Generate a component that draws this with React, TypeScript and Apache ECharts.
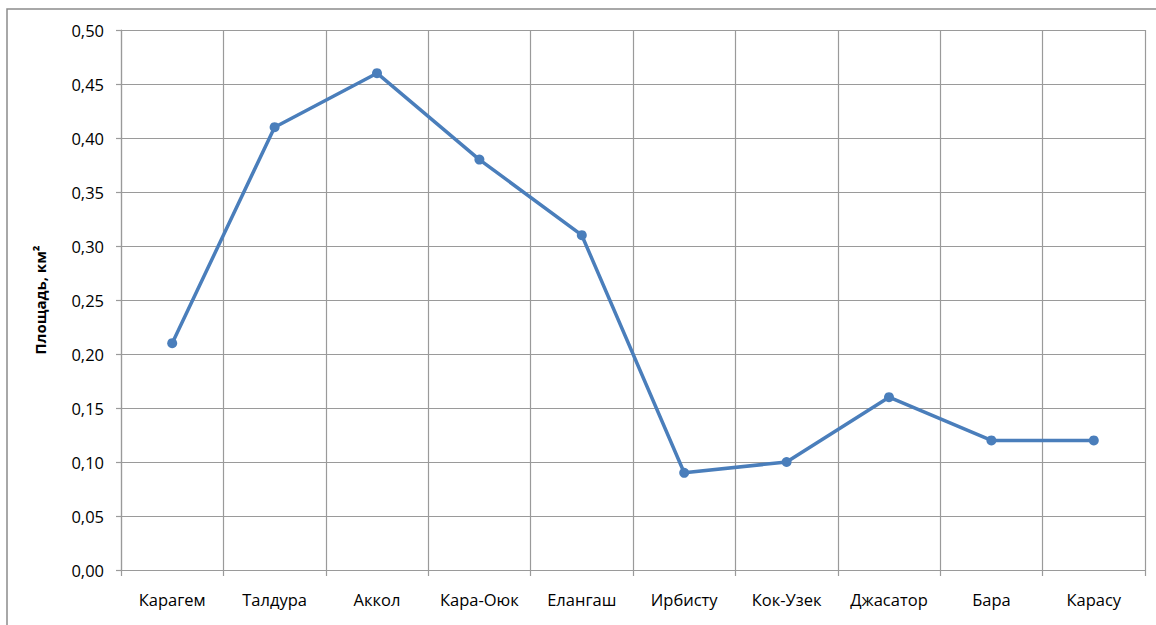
import React, { useEffect, useRef } from "react";
import * as echarts from "echarts";

const categories = ["Карагем", "Талдура", "Аккол", "Кара-Оюк", "Елангаш", "Ирбисту", "Кок-Узек", "Джасатор", "Бара", "Карасу"];
const areaValues = [0.21, 0.41, 0.46, 0.38, 0.31, 0.09, 0.10, 0.16, 0.12, 0.12];
const yAxisName = "Площадь, км²";

export default function App() {
  const ref = useRef<HTMLDivElement>(null);
  useEffect(() => {
    document.body.style.margin = "0";
    const chart = echarts.init(ref.current!, null, { renderer: "svg" });
    const font = "'Open Sans', 'Noto Sans', sans-serif";
    chart.setOption({
      animation: false,
      backgroundColor: "#ffffff",
      graphic: [
        {
          type: "rect",
          shape: { x: 7, y: 9, width: 1160, height: 640 },
          style: { fill: "none", stroke: "#8c8c8c", lineWidth: 1.5 },
          silent: true,
        },
      ],
      grid: { left: 121, right: 11, top: 30, bottom: 55, containLabel: false },
      xAxis: {
        type: "category",
        data: categories,
        boundaryGap: true,
        axisLine: { show: true, lineStyle: { color: "#9a9a9a", width: 1.2 } },
        axisTick: { show: true, length: 6, alignWithLabel: false, lineStyle: { color: "#9a9a9a", width: 1.2 } },
        splitLine: { show: true, lineStyle: { color: "#9a9a9a", width: 1.2 } },
        axisLabel: { color: "#000", fontSize: 16.5, fontFamily: font, margin: 21, interval: 0 },
      },
      yAxis: {
        type: "value",
        min: 0,
        max: 0.5,
        interval: 0.05,
        name: yAxisName,
        nameLocation: "middle",
        nameGap: 74,
        nameRotate: 90,
        nameTextStyle: { color: "#000", fontSize: 15, fontWeight: "bold", fontFamily: font },
        axisLine: { show: true, lineStyle: { color: "#9a9a9a", width: 1.2 } },
        axisTick: { show: true, length: 5, lineStyle: { color: "#9a9a9a", width: 1.2 } },
        splitLine: { show: true, lineStyle: { color: "#9a9a9a", width: 1.2 } },
        axisLabel: {
          color: "#000",
          fontSize: 16.5,
          fontFamily: font,
          margin: 17,
          formatter: (v: number) => v.toFixed(2).replace(".", ","),
        },
      },
      series: [
        {
          type: "line",
          data: areaValues,
          symbol: "circle",
          symbolSize: 10,
          lineStyle: { color: "#4a7ebb", width: 3.5 },
          itemStyle: { color: "#4a7ebb" },
        },
      ],
    });
    return () => chart.dispose();
  }, []);
  return <div ref={ref} style={{ width: 1156, height: 625 }} />;
}
